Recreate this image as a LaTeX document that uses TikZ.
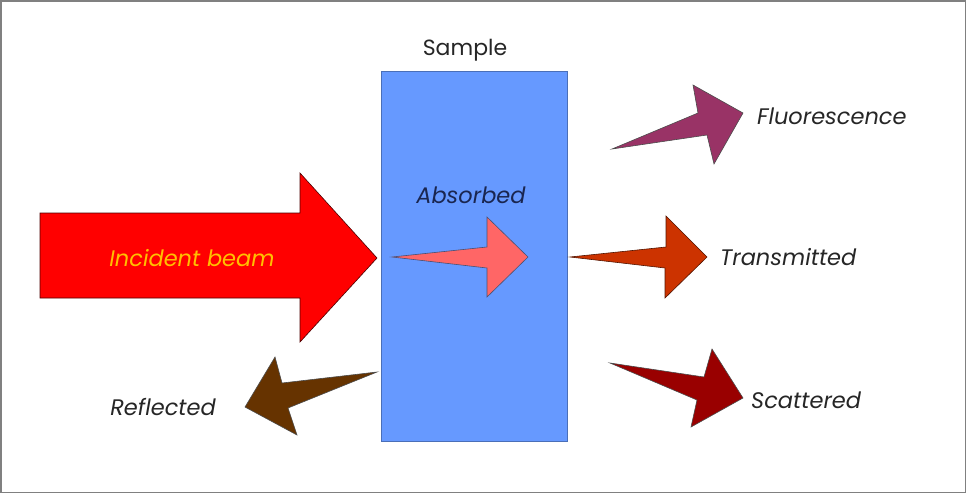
\documentclass[tikz,border=0pt]{standalone}
\usepackage{fontspec}
\setmainfont{Poppins}
\begin{document}
\begin{tikzpicture}[x=1pt,y=-1pt,
  arrowshape/.style={draw=black!70!red, line width=0.6pt, line join=miter},
  lbl/.style={font=\fontsize{22.5}{26}\selectfont\itshape, text=black!85, inner sep=0pt},
]
\definecolor{sampleblue}{HTML}{6699FF}
\definecolor{sampleedge}{HTML}{4A6FB8}
\definecolor{absred}{HTML}{FF6666}
\definecolor{fluor}{HTML}{993366}
\definecolor{trans}{HTML}{CC3300}
\definecolor{scat}{HTML}{990000}
\definecolor{refl}{HTML}{663300}
\definecolor{incyellow}{HTML}{FFC000}
\definecolor{absnavy}{HTML}{1A2650}
\useasboundingbox (0,0) rectangle (966,493);
\draw[draw=gray, line width=1.5pt] (0.75,0.75) rectangle (965.25,492.25);
% sample
\node[draw=sampleedge, fill=sampleblue, line width=0.8pt, minimum width=186pt, minimum height=370pt, anchor=north west, inner sep=0pt] (sample) at (381,71) {};
\node[font=\fontsize{22}{26}\selectfont, text=black!85, inner sep=0pt] (samplelbl) at (465,50) {Sample};
% incident beam
\draw[arrowshape, fill=red] (40,213) -- (300,213) -- (300,173) -- (377,258) -- (300,342) -- (300,298) -- (40,298) -- cycle;
\node[lbl, text=incyellow] (incident) at (192,258) {Incident beam};
% absorbed
\draw[arrowshape, draw=absnavy!80, fill=absred] (392,257) -- (487,247) -- (487,217) -- (528,257) -- (487,297) -- (487,268) -- cycle;
\node[lbl, text=absnavy] (absorbed) at (471,195) {Absorbed};
% fluorescence
\draw[arrowshape, draw=black!70, fill=fluor] (612,149) -- (698,113) -- (693,85) -- (743,113) -- (714,164) -- (707,135) -- cycle;
\node[lbl, anchor=west] (fluorlbl) at (757,116) {Fluorescence};
% transmitted
\draw[arrowshape, draw=black!60!trans, fill=trans] (570,257) -- (666,247) -- (666,216) -- (707,257) -- (665,298) -- (665,268) -- cycle;
\node[lbl, anchor=west] (translbl) at (720,257) {Transmitted};
% scattered
\draw[arrowshape, draw=black!70, fill=scat] (610,363) -- (704,377) -- (712,349) -- (743,398) -- (691,427) -- (697,400) -- cycle;
\node[lbl, anchor=west] (scatlbl) at (751,400) {Scattered};
% reflected
\draw[arrowshape, draw=black!70, fill=refl] (377,372) -- (282,383) -- (275,357) -- (245,407) -- (297,435) -- (288,408) -- cycle;
\node[lbl, anchor=east] (refllbl) at (216,407) {Reflected};
\end{tikzpicture}
\end{document}
